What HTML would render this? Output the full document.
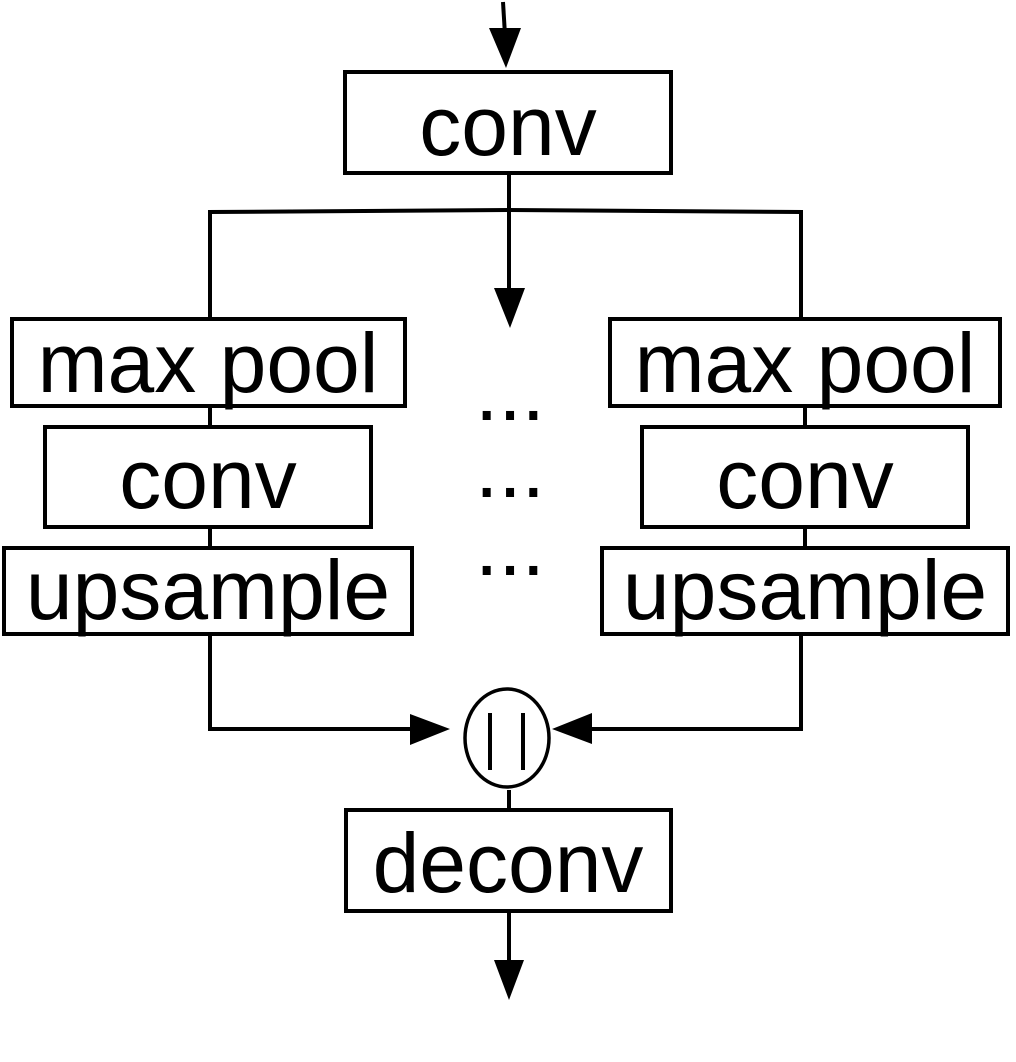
<!DOCTYPE html>
<html><head><style>html,body{margin:0;padding:0;background:#fff}svg{display:block}</style></head>
<body>
<svg width="1016" height="1062" viewBox="0 0 1016 1062" xmlns="http://www.w3.org/2000/svg">
<g stroke="#000" stroke-width="4" fill="none">
<line x1="503" y1="2" x2="505" y2="35"/>
<rect x="345" y="72" width="326" height="101"/>
<line x1="509" y1="173" x2="509" y2="290"/>
<polyline points="210,319 210,212 509,210 801,212 801,319"/>
<rect x="12" y="319" width="393" height="87"/>
<rect x="45" y="427" width="326" height="100"/>
<rect x="4" y="548" width="408" height="86"/>
<rect x="610" y="319" width="390" height="87"/>
<rect x="642" y="427" width="326" height="100"/>
<rect x="602" y="548" width="406" height="86"/>
<line x1="210" y1="406" x2="210" y2="427"/>
<line x1="210" y1="527" x2="210" y2="548"/>
<line x1="805" y1="406" x2="805" y2="427"/>
<line x1="805" y1="527" x2="805" y2="548"/>
<polyline points="210,634 210,729 415,729"/>
<polyline points="801,634 801,729 590,729"/>
<ellipse cx="507" cy="738" rx="42" ry="49" stroke-width="3.5"/>
<line x1="490" y1="713" x2="490" y2="770"/>
<line x1="523" y1="713" x2="523" y2="770"/>
<line x1="509" y1="790" x2="509" y2="810"/>
<rect x="346" y="810" width="325" height="101"/>
<line x1="509" y1="911" x2="509" y2="965"/>
</g>
<g fill="#000">
<polygon points="489,28 521,28 506,68"/>
<polygon points="494,288 525,288 510,328"/>
<polygon points="410,714 410,745 450,729"/>
<polygon points="592,713 592,744 552,729"/>
<polygon points="494,960 524,960 509,1000"/>
</g>
<g font-family="Liberation Sans, sans-serif" font-size="84" text-anchor="middle" fill="#000">
<text x="508" y="155">conv</text>
<text x="208" y="392">max pool</text>
<text x="208" y="508">conv</text>
<text x="208" y="619">upsample</text>
<text x="805" y="392">max pool</text>
<text x="805" y="508">conv</text>
<text x="805" y="619">upsample</text>
<text x="508" y="892">deconv</text>
<text x="510" y="420" font-size="84">...</text>
<text x="510" y="497" font-size="84">...</text>
<text x="510" y="575" font-size="84">...</text>
</g>
</svg>
</body></html>
